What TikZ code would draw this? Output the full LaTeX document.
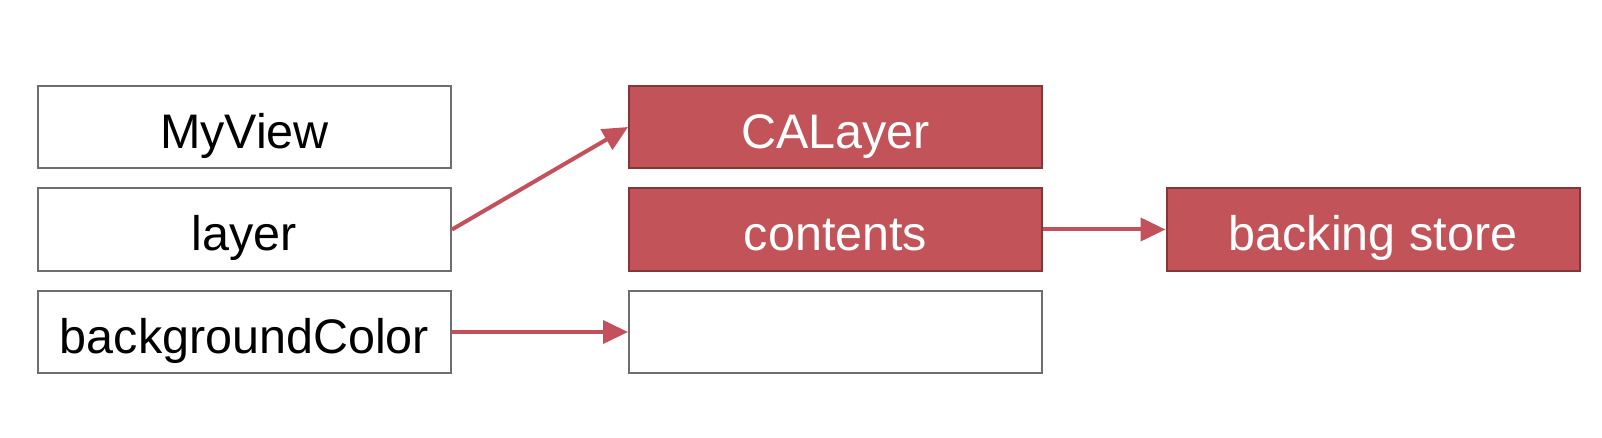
\documentclass[tikz,border=0pt]{standalone}
\usepackage{fontspec}
\setmainfont{Liberation Sans}
\usetikzlibrary{arrows.meta}
\definecolor{boxred}{RGB}{194,83,88}
\definecolor{redline}{RGB}{128,56,58}
\definecolor{grayline}{RGB}{110,110,110}
\definecolor{arrowred}{RGB}{196,80,92}
\begin{document}
\begin{tikzpicture}[x=1pt,y=-1pt,
  boxbase/.style={line width=2pt,minimum width=413pt,minimum height=82pt,inner sep=0pt,font=\fontsize{48.5}{56}\selectfont,text height=43pt,text depth=0pt},
  plainbox/.style={boxbase,draw=grayline,fill=white,text=black},
  redbox/.style={boxbase,draw=redline,fill=boxred,text=white},
  conn/.style={draw=arrowred,line width=4pt,-{Triangle[length=25pt,width=23pt]}}]
\useasboundingbox (0,0) rectangle (1602,438);
\fill[white] (0,0) rectangle (1602,438);
\node[plainbox] (myview) at (244.5,127) {MyView};
\node[plainbox] (layer) at (244.5,229.5) {layer};
\node[plainbox] (bg) at (244.5,332) {backgroundColor};
\node[redbox] (calayer) at (835.5,127) {CALayer};
\node[redbox] (contents) at (835.5,229.5) {contents};
\node[plainbox] (empty) at (835.5,332) {};
\node[redbox] (store) at (1373,229.5) {backing store};
\draw[conn] (layer.east) -- (calayer.west);
\draw[conn] (contents.east) -- (store.west);
\draw[conn] (bg.east) -- (empty.west);
\end{tikzpicture}
\end{document}
